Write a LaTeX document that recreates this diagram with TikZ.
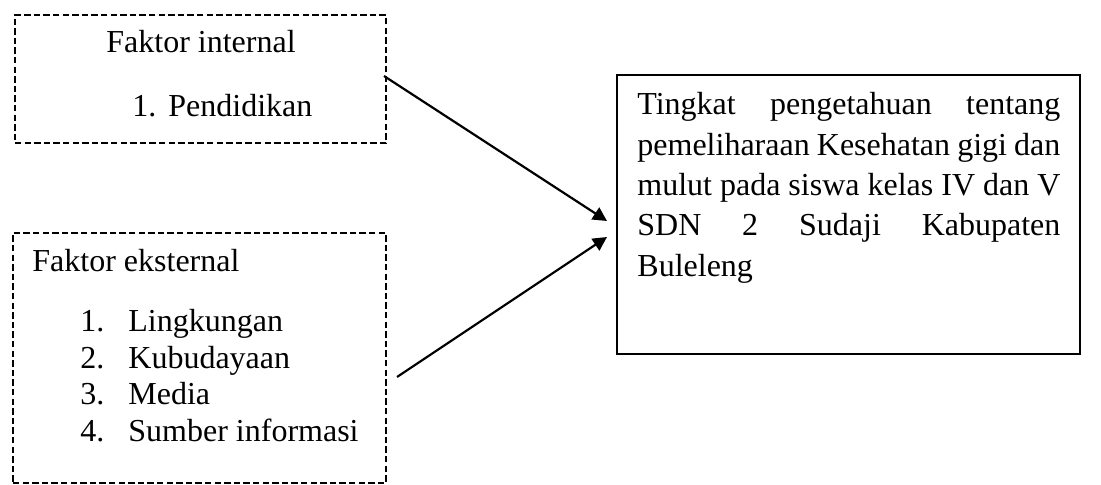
\documentclass[tikz,border=0pt]{standalone}
\usepackage{fontspec}
\setmainfont{Liberation Serif}
\usetikzlibrary{arrows.meta}
\begin{document}
\begin{tikzpicture}[x=0.5pt,y=-0.5pt,
  font=\fontsize{16pt}{20.2pt}\selectfont,
  dbox/.style={draw, rectangle, dash pattern=on 3.2pt off 1.6pt, line width=1.2pt, inner sep=0pt},
  sbox/.style={draw, rectangle, line width=1.4pt, inner sep=0pt},
  txt/.style={anchor=base west, inner sep=0pt},
  arr/.style={-{Triangle[length=7pt,width=7pt]}, line width=1.1pt}]
\useasboundingbox (0,0) rectangle (1101,485);
% boxes
\node[dbox, minimum width=185.5pt, minimum height=64pt] (internal) at (200.5,79) {};
\node[dbox, minimum width=186.5pt, minimum height=125pt] (eksternal) at (199.5,358) {};
\node[sbox, minimum width=231.5pt, minimum height=139.5pt] (tingkat) at (848.5,214.5) {};
% texts of box 1
\node[txt] (t1) at (106,53) {Faktor internal};
\node[txt] (n11) at (132,117) {1.};
\node[txt] (i11) at (168,117) {Pendidikan};
% texts of box 2
\node[txt] (t2) at (32,272) {Faktor eksternal};
\node[txt] (n21) at (80,332) {1.};
\node[txt] (i21) at (128,332) {Lingkungan};
\node[txt] (n22) at (80,368.5) {2.};
\node[txt] (i22) at (128,368.5) {Kubudayaan};
\node[txt] (n23) at (80,405) {3.};
\node[txt] (i23) at (128,405) {Media};
\node[txt] (n24) at (80,441.5) {4.};
\node[txt] (i24) at (128,441.5) {Sumber informasi};
% texts of box 3
\node[txt] (l1) at (637,115) {\makebox[211.5pt][s]{Tingkat pengetahuan tentang}};
\node[txt] (l2) at (637,155.3) {\makebox[211.5pt][s]{pemeliharaan Kesehatan gigi dan}};
\node[txt] (l3) at (637,195.6) {\makebox[211.5pt][s]{mulut pada siswa kelas IV dan V}};
\node[txt] (l4) at (637,235.9) {\makebox[211.5pt][s]{SDN 2 Sudaji Kabupaten}};
\node[txt] (l5) at (637,276.2) {Buleleng};
% connectors
\coordinate (s1) at (384,76);
\coordinate (s2) at (397,377);
\coordinate (e1) at (607,221);
\coordinate (e2) at (607,237);
\draw[arr] (s1) -- (e1);
\draw[arr] (s2) -- (e2);
\end{tikzpicture}
\end{document}
